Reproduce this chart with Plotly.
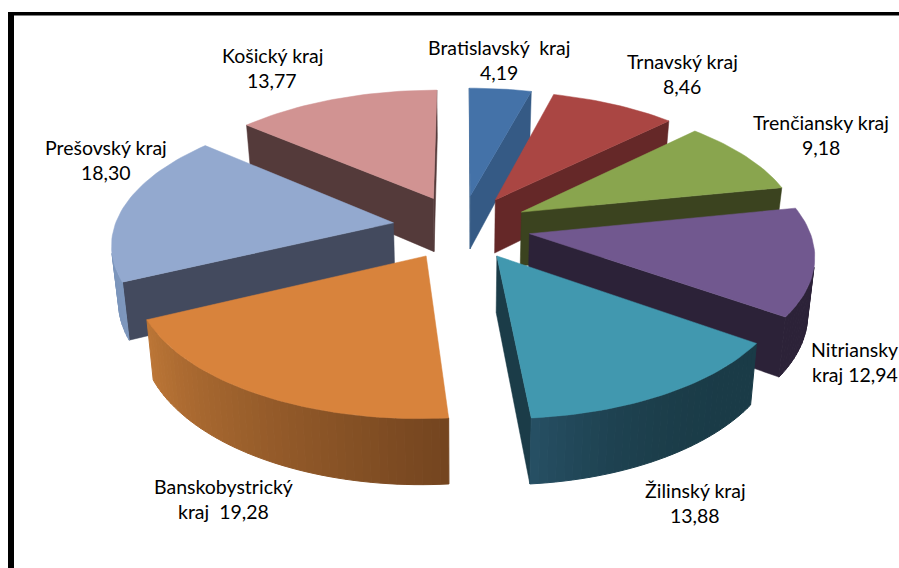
import math
import plotly.graph_objects as go

regions = ["Bratislavský  kraj", "Trnavský kraj", "Trenčiansky kraj", "Nitriansky",
           "Žilinský kraj", "Banskobystrický", "Prešovský kraj", "Košický kraj"]
value_prefix = ["", "", "", "kraj ", "", "kraj  ", "", ""]
values = [4.19, 8.46, 9.18, 12.94, 13.88, 19.28, 18.30, 13.77]
top_colors = ["#4472a8", "#aa4643", "#89a54e", "#71588f", "#4198af", "#d8833c", "#93a9cf", "#d19392"]
cut_colors = ["#355a85", "#652828", "#3b431f", "#2c2238", "#1b3c48", "#75451f", "#434a5e", "#543a3a"]
wall_start = ["#355a85", "#652828", "#3b431f", "#2c2238", "#1a3b47", "#74451f", "#7d97bd", "#543a3a"]
wall_end = ["#355a85", "#652828", "#3b431f", "#2c2238", "#264f63", "#bb7536", "#7890b5", "#543a3a"]
wall_curve = [1, 1, 1, 1, 3, 1, 1, 1]
label_x = [499, 682, 821, 854.5, 695, 223, 106, 272]
label_y = [47, 61, 122, 349, 490, 486, 147, 55]
draw_order = [0, 7, 1, 2, 3, 6, 4, 5]

CX, CY, A, B, P, H, Q, EXPLODE = 461.5, 227, 279, 131, 0.14, 54.8, 0.98, 0.247
LINE_GAP = 25.5


def project(X, Y, bottom=False):
    w = 1 + P * Y
    sx = A * X / w
    sy = CY - B * Y / w
    if bottom:
        return CX + sx * Q, sy + H / w
    return CX + sx, sy


def lerp_color(a, b, t):
    ca = [int(a[i:i + 2], 16) for i in (1, 3, 5)]
    cb = [int(b[i:i + 2], 16) for i in (1, 3, 5)]
    return "#%02x%02x%02x" % tuple(round(x + (y - x) * t) for x, y in zip(ca, cb))


def area(pts):
    s = 0
    for i in range(len(pts)):
        x0, y0 = pts[i]
        x1, y1 = pts[(i + 1) % len(pts)]
        s += x0 * y1 - x1 * y0
    return s / 2


fig = go.Figure()


def poly(pts, color, line=0.0):
    xs = [p[0] for p in pts] + [pts[0][0]]
    ys = [p[1] for p in pts] + [pts[0][1]]
    fig.add_trace(go.Scatter(x=xs, y=ys, mode="lines", fill="toself", fillcolor=color,
                             line=dict(color=color, width=line), hoverinfo="skip", showlegend=False))


total = sum(values)
starts = []
acc = 0
for v in values:
    starts.append(acc)
    acc += v

for i in draw_order:
    a0 = starts[i] / total * 2 * math.pi
    a1 = (starts[i] + values[i]) / total * 2 * math.pi
    mid = (a0 + a1) / 2
    ox, oy = EXPLODE * math.sin(mid), EXPLODE * math.cos(mid)
    n = max(6, int((a1 - a0) / math.radians(1.5)))
    angles = [a0 + (a1 - a0) * k / n for k in range(n + 1)]
    rim = [(ox + math.sin(t), oy + math.cos(t)) for t in angles]
    top_rim = [project(*p) for p in rim]
    bot_rim = [project(*p, bottom=True) for p in rim]
    apex_t = project(ox, oy)
    apex_b = project(ox, oy, bottom=True)

    # radial cut faces, only the ones that face the viewer (screen y points down)
    start_face = [apex_t, top_rim[0], bot_rim[0], apex_b]
    end_face = [apex_t, top_rim[-1], bot_rim[-1], apex_b]
    if area(start_face) < -1:
        poly(start_face, cut_colors[i], 0.5)
    if area(end_face) > 1:
        poly(end_face, cut_colors[i], 0.5)

    # outer wall as thin strips, front-facing ones only
    for k in range(n):
        strip = [top_rim[k], top_rim[k + 1], bot_rim[k + 1], bot_rim[k]]
        if area(strip) < 0:
            t = (k / max(1, n - 1)) ** wall_curve[i]
            poly(strip, lerp_color(wall_start[i], wall_end[i], t), 1)

    poly([apex_t] + top_rim, top_colors[i], 0.5)

annotations = []
for name, pre, v, x, y in zip(regions, value_prefix, values, label_x, label_y):
    val = pre + f"{v:.2f}".replace(".", ",")
    for txt, yy in ((name, y), (val, y + LINE_GAP)):
        annotations.append(dict(x=x, y=yy, xref="x", yref="y", text=txt, showarrow=False,
                                xanchor="center", yanchor="middle",
                                font=dict(family="Lato", size=19.5, color="#000000")))

frame = [dict(type="rect", x0=8, x1=899, y0=12, y1=15.5, fillcolor="#000000", line_width=0, layer="above"),
         dict(type="rect", x0=8, x1=14, y0=12, y1=568, fillcolor="#000000", line_width=0, layer="above")]

fig.update_layout(
    width=899, height=568, margin=dict(l=0, r=0, t=0, b=0),
    paper_bgcolor="#ffffff", plot_bgcolor="#ffffff", showlegend=False,
    xaxis=dict(range=[0, 899], visible=False, fixedrange=True),
    yaxis=dict(range=[568, 0], visible=False, fixedrange=True),
    annotations=annotations, shapes=frame,
)
fig.write_html("out.html", config=dict(displayModeBar=False),
               post_script="document.body.style.margin='0';document.body.style.overflow='hidden';")
